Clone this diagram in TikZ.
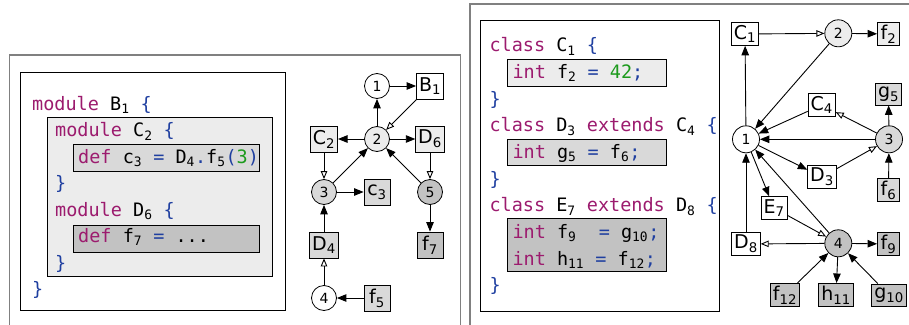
\documentclass[tikz,border=0pt]{standalone}
\usepackage{fontspec}
\setmainfont{DejaVu Sans}
\setmonofont{DejaVu Sans Mono}
\usetikzlibrary{arrows.meta, positioning}

\definecolor{kwd}{RGB}{156,27,110}
\definecolor{sym}{RGB}{31,63,160}
\definecolor{num}{RGB}{28,154,28}
\definecolor{lev2}{gray}{0.925}
\definecolor{lev3}{gray}{0.85}
\definecolor{lev4}{gray}{0.76}
\definecolor{framegray}{gray}{0.5}

\newcommand{\kw}[1]{\textcolor{kwd}{#1}}
\newcommand{\sy}[1]{\textcolor{sym}{#1}}
\newcommand{\nm}[1]{\textcolor{num}{#1}}
\newcommand{\idx}[1]{\textsubscript{#1}}

\tikzset{
  code/.style={anchor=base west, inner sep=0pt, font=\ttfamily\fontsize{18.5}{22}\selectfont},
  blk/.style={draw, line width=0.8pt},
  state/.style={circle, draw, line width=0.8pt, inner sep=0pt, minimum size=25pt, font=\fontsize{14}{16}\selectfont},
  decl/.style={rectangle, draw, line width=0.8pt, inner sep=2.5pt, minimum size=26pt, font=\fontsize{19}{21}\selectfont},
  ref/.style={line width=0.9pt, -{Triangle[length=9.5pt,width=7.5pt]}},
  inh/.style={line width=0.9pt, -{Triangle[open,length=8pt,width=6.5pt]}},
}

\begin{document}
\begin{tikzpicture}[x=1pt, y=-1pt]
\useasboundingbox (0,0) rectangle (909,324);

% outer frames
\draw[draw=framegray, line width=1.2pt] (9.5,330) |- (460.5,55) -- (460.5,330);
\draw[draw=framegray, line width=1.2pt] (470,330) |- (915,4);

% left code
\draw[blk] (20.7,72.3) rectangle (285.7,310);
\draw[blk, fill=lev2] (47,117.7) rectangle (272,276.7);
\draw[blk, fill=lev3] (73,144) rectangle (259,171);
\draw[blk, fill=lev4] (73,225) rectangle (259,252.3);
\node[code] (lb1) at (32,110) {\kw{module} B\idx{1} \sy{\{}};
\node[code] (lc2) at (55,136.5) {\kw{module} C\idx{2} \sy{\{}};
\node[code] (lc3) at (78,163) {\kw{def} c\idx{3} \sy{=} D\idx{4}\sy{.}f\idx{5}\sy{(}\nm{3}\sy{)}};
\node[code] (lc2e) at (55,189.5) {\sy{\}}};
\node[code] (ld6) at (55,216) {\kw{module} D\idx{6} \sy{\{}};
\node[code] (lf7) at (78,242.5) {\kw{def} f\idx{7} \sy{=} ...};
\node[code] (ld6e) at (55,269) {\sy{\}}};
\node[code] (lb1e) at (32,295.5) {\sy{\}}};

% left graph
\begin{scope}[node distance=53pt, on grid]
  \node[state, fill=lev2] (l2) at (377,139) {2};
  \node[state] (l1) [above=of l2] {1};
  \node[decl] (B1) [right=of l1] {B\idx{1}};
  \node[decl, fill=lev2] (C2) [left=of l2] {C\idx{2}};
  \node[decl, fill=lev2] (D6) [right=of l2] {D\idx{6}};
  \node[state, fill=lev3] (l3) [below=of C2] {3};
  \node[decl, fill=lev3] (c3) [right=of l3] {c\idx{3}};
  \node[state, fill=lev4] (l5) [below=of D6] {5};
  \node[decl, fill=lev4] (f7) [below=of l5] {f\idx{7}};
  \node[decl, fill=lev3] (D4) [below=of l3] {D\idx{4}};
  \node[state] (l4) [below=of D4] {4};
  \node[decl, fill=lev3] (f5) [right=of l4] {f\idx{5}};
\end{scope}
\path[ref]
  (l1) edge (B1)
  (B1) edge[inh] (l2)
  (l2) edge (l1)
  (l2) edge (C2)
  (l2) edge (D6)
  (C2) edge[inh] (l3)
  (l3) edge (l2)
  (l3) edge (c3)
  (D6) edge[inh] (l5)
  (l5) edge (l2)
  (l5) edge (f7)
  (D4) edge (l3)
  (l4) edge[inh] (D4)
  (f5) edge (l4);

% right code
\draw[blk] (480.7,20) rectangle (719.3,311.7);
\draw[blk, fill=lev2] (507.3,59.3) rectangle (666.7,86);
\draw[blk, fill=lev3] (507.3,139.3) rectangle (666.7,165.7);
\draw[blk, fill=lev4] (507.3,218.3) rectangle (666.7,271.7);
\node[code] (rc1) at (489.3,51.7) {\kw{class} C\idx{1} \sy{\{}};
\node[code] (rf2) at (512.3,78.3) {\kw{int} f\idx{2} \sy{=} \nm{42}\sy{;}};
\node[code] (rc1e) at (489.3,105) {\sy{\}}};
\node[code] (rd3) at (489.3,131.7) {\kw{class} D\idx{3} \kw{extends} C\idx{4} \sy{\{}};
\node[code] (rg5) at (512.3,158.3) {\kw{int} g\idx{5} \sy{=} f\idx{6}\sy{;}};
\node[code] (rd3e) at (489.3,185) {\sy{\}}};
\node[code] (re7) at (489.3,211.7) {\kw{class} E\idx{7} \kw{extends} D\idx{8} \sy{\{}};
\node[code] (rf9) at (512.3,238.3) {\kw{int} f\idx{9}~~\sy{=} g\idx{10}\sy{;}};
\node[code] (rh11) at (512.3,265) {\kw{int} h\idx{11} \sy{=} f\idx{12}\sy{;}};
\node[code] (re7e) at (489.3,291.7) {\sy{\}}};

% right graph
\begin{scope}[decl/.append style={minimum size=22pt}, state/.append style={minimum size=27pt}]
  \node[state] (r1) at (746,139.3) {1};
  \node[decl] (C1) at (745,34) {C\idx{1}};
  \node[state, fill=lev2] (r2) at (838.3,33.3) {2};
  \node[decl, fill=lev2] (f2) at (888.5,34) {f\idx{2}};
  \node[decl] (C4) at (821.7,105) {C\idx{4}};
  \node[decl, fill=lev3] (g5) at (888.5,94) {g\idx{5}};
  \node[state, fill=lev3] (r3) at (889,139.3) {3};
  \node[decl] (D3) at (822,177) {D\idx{3}};
  \node[decl, fill=lev3] (f6) at (888.5,190) {f\idx{6}};
  \node[decl] (E7) at (774,208) {E\idx{7}};
  \node[decl] (D8) at (746,244) {D\idx{8}};
  \node[state, fill=lev4] (r4) at (838.3,243.3) {4};
  \node[decl, fill=lev4] (f9) at (888.5,244) {f\idx{9}};
  \node[decl, fill=lev4] (f12) at (785,295) {f\idx{12}};
  \node[decl, fill=lev4] (h11) at (836,295) {h\idx{11}};
  \node[decl, fill=lev4] (g10) at (889,295) {g\idx{10}};
\end{scope}
\path[ref]
  (r1) edge (C1)
  (C1) edge[inh] (r2)
  (r2) edge (f2)
  (r2) edge (r1)
  (C4) edge (r1)
  (r3) edge[inh] (C4)
  (r3) edge (g5)
  (r3) edge (r1)
  (r1) edge (D3)
  (D3) edge[inh] (r3)
  (f6) edge (r3)
  (r1) edge (E7)
  (E7) edge[inh] (r4)
  (r4) edge (r1)
  (D8) edge (r1)
  (r4) edge[inh] (D8)
  (r4) edge (f9)
  (f12) edge (r4)
  (r4) edge (h11)
  (g10) edge (r4);
\end{tikzpicture}
\end{document}
